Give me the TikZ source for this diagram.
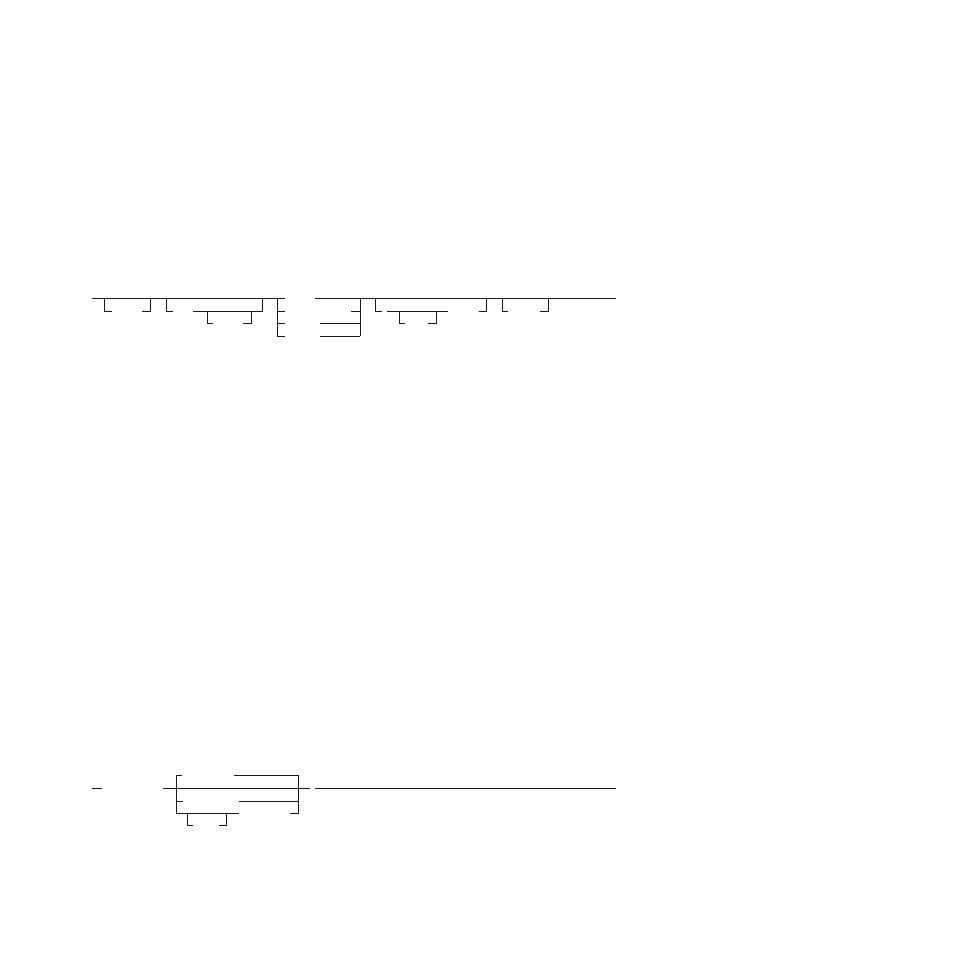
\documentclass[tikz,border=0pt]{standalone}
\begin{document}
\begin{tikzpicture}[x=1pt,y=-1pt,track/.style={draw=black!90,line width=0.9pt,line cap=butt,line join=miter}]
\fill[white] (0,0) rectangle (954,954);
\useasboundingbox (0,0) rectangle (954,954);
% ---- upper diagram ----
\path[track] (92,298) -- (284.5,298);
\path[track] (104,298) -- (104,311) -- (112,311);
\path[track] (142,311) -- (150,311) -- (150,298);
\path[track] (166,298) -- (166,311) -- (173,311);
\path[track] (193,311) -- (262,311) -- (262,298);
\path[track] (207,311) -- (207,323.5) -- (213,323.5);
\path[track] (243,323.5) -- (251,323.5) -- (251,311);
\path[track] (277,298) -- (277,336);
\path[track] (277,311) -- (284.5,311);
\path[track] (277,323.5) -- (284.5,323.5);
\path[track] (277,336) -- (284.5,336);
\path[track] (315,298) -- (616,298);
\path[track] (360,298) -- (360,336);
\path[track] (351,311) -- (360,311);
\path[track] (320,323.5) -- (360,323.5);
\path[track] (320,336) -- (360,336);
\path[track] (375,298) -- (375,311) -- (381.5,311);
\path[track] (387,311) -- (447.5,311);
\path[track] (399,311) -- (399,323.5) -- (405,323.5);
\path[track] (428,323.5) -- (436,323.5) -- (436,311);
\path[track] (478.5,311) -- (486,311) -- (486,298);
\path[track] (502,298) -- (502,311) -- (508,311);
\path[track] (540,311) -- (548,311) -- (548,298);
% ---- lower diagram ----
\path[track] (92,788) -- (101.5,788);
\path[track] (163,788) -- (310,788);
\path[track] (182,775.5) -- (176,775.5) -- (176,813) -- (239,813);
\path[track] (176,801) -- (182.5,801);
\path[track] (234,775.5) -- (298,775.5) -- (298,813) -- (290,813);
\path[track] (239,801) -- (298,801);
\path[track] (187,813) -- (187,825.5) -- (193,825.5);
\path[track] (219,825.5) -- (226.5,825.5) -- (226.5,813);
\path[track] (315,788) -- (616,788);
\end{tikzpicture}
\end{document}
